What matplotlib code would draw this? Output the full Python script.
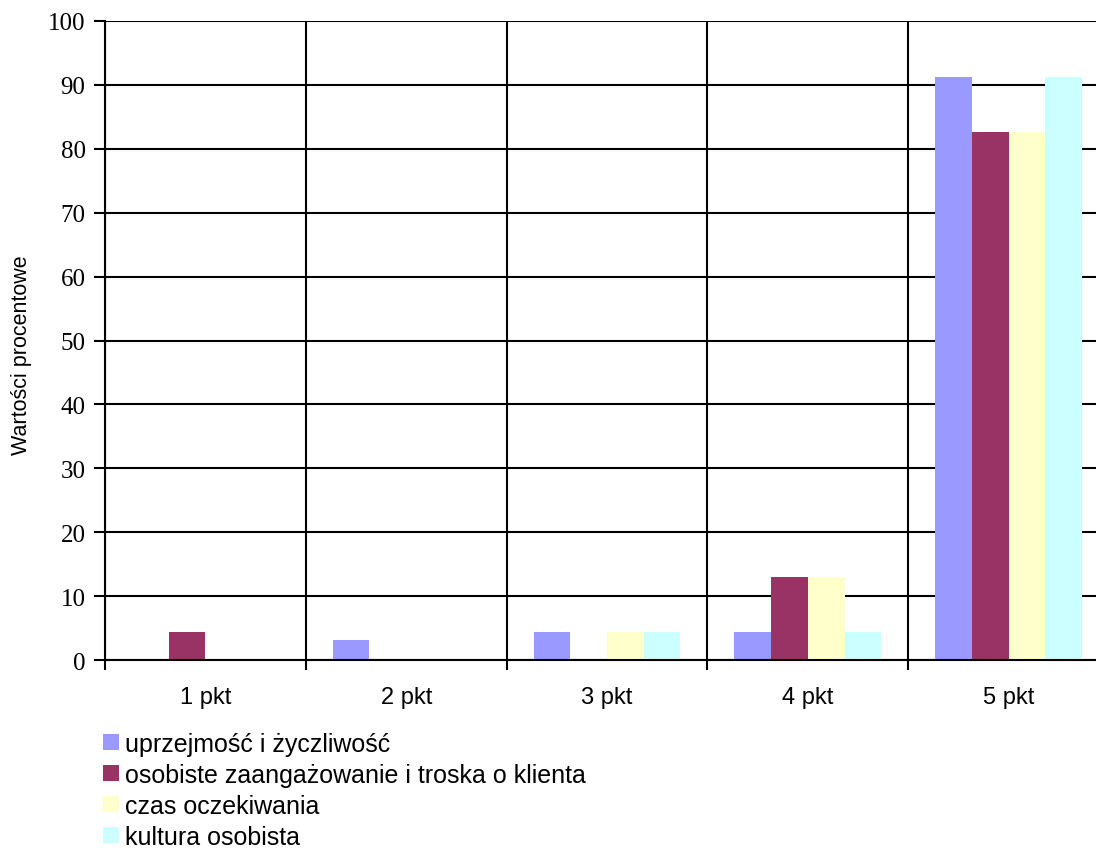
import matplotlib
matplotlib.use("Agg")
import matplotlib.pyplot as plt
import numpy as np

categories = ["1 pkt", "2 pkt", "3 pkt", "4 pkt", "5 pkt"]
series_names = [
    "uprzejmość i życzliwość",
    "osobiste zaangażowanie i troska o klienta",
    "czas oczekiwania",
    "kultura osobista",
]
uprzejmosc = [0, 3.1, 4.35, 4.35, 91.3]
zaangazowanie = [4.35, 0, 0, 13.04, 82.6]
czas = [0, 0, 4.35, 13.04, 82.6]
kultura = [0, 0, 4.35, 4.35, 91.3]
colors = ["#9999FF", "#993366", "#FFFFCC", "#CCFFFF"]
yticks = list(range(0, 101, 10))

fig = plt.figure(figsize=(10.96, 8.53), dpi=100)
ax = fig.add_axes([105 / 1096, 1 - 661 / 853, (1109 - 105) / 1096, (661 - 22) / 853])

x = np.arange(len(categories)) + 0.5
w = 0.183
data = [uprzejmosc, zaangazowanie, czas, kultura]
for i, (vals, c, name) in enumerate(zip(data, colors, series_names)):
    ax.bar(x + (i - 1.5) * w, vals, width=w, color=c, label=name, zorder=3, linewidth=0)

ax.set_xlim(0, 5)
ax.set_ylim(0, 100)
ax.set_yticks(yticks)
ax.set_yticklabels([str(t) for t in yticks], fontfamily="Liberation Serif", fontsize=18)
ax.set_xticks(np.arange(0, 6))
ax.set_xticklabels([])
ax.set_xticks(x, minor=True)
ax.set_xticklabels(categories, minor=True, fontfamily="Liberation Sans", fontsize=17)
ax.tick_params(axis="x", which="minor", length=0, pad=19)
ax.tick_params(axis="x", which="major", length=7, width=1.5, direction="out")
ax.tick_params(axis="y", length=8, width=1.5, direction="out", pad=6)
ax.grid(True, axis="y", color="black", linewidth=1.5, zorder=1)
ax.grid(True, axis="x", which="major", color="black", linewidth=1.5, zorder=1)
for s in ax.spines.values():
    s.set_linewidth(1.5)
    s.set_zorder(4)
ax.spines["right"].set_visible(False)
ax.spines["top"].set_visible(False)

fig.text(22 / 1096, 1 - 355 / 853, "Wartości procentowe", rotation=90,
         fontfamily="Liberation Sans", fontsize=15.5, va="center", ha="center")

handles, labels = ax.get_legend_handles_labels()
leg = fig.legend(handles, labels, loc="upper left", bbox_to_anchor=(103 / 1096, 1 - 733 / 853),
                 frameon=False, prop={"family": "Liberation Sans", "size": 18},
                 handlelength=0.62, handleheight=0.62, handletextpad=0.25,
                 labelspacing=0.28, borderaxespad=0, borderpad=0)

fig.savefig("out.png", dpi=100)
